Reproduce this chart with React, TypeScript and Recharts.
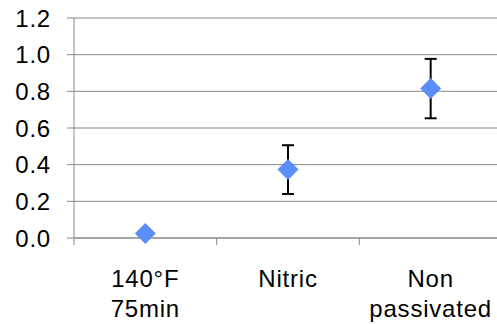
import React from "react";
import { ScatterChart, Scatter, XAxis, YAxis, CartesianGrid, ErrorBar } from "recharts";

const categories: string[][] = [["140°F", "75min"], ["Nitric"], ["Non", "passivated"]];
const values: number[] = [0.025, 0.373, 0.815];
const errors: number[] = [0.005, 0.133, 0.162];
const yTicks: number[] = [0, 0.2, 0.4, 0.6, 0.8, 1.0, 1.2];

const data = categories.map((c, i) => ({ x: i + 0.5, y: values[i], err: errors[i] }));
const xTicks: number[] = [];
for (let i = 0; i <= categories.length; i++) {
  xTicks.push(i);
  if (i < categories.length) xTicks.push(i + 0.5);
}

const GRID = "#888888";
const FONT = "'Liberation Sans', Arial, sans-serif";

const XTick = (props: any) => {
  const { x, y, payload } = props;
  const v = payload.value as number;
  if (Number.isInteger(v)) {
    return <line x1={x} x2={x} y1={y} y2={y + 7} stroke={GRID} strokeWidth={1} />;
  }
  const lines = categories[Math.floor(v)];
  return (
    <text x={x} y={y + 49} textAnchor="middle" fontSize={24} fontFamily={FONT} fill="#000" letterSpacing={0.8}>
      {lines.map((l, i) => (
        <tspan key={i} x={x} dy={i === 0 ? 0 : 30}>
          {l}
        </tspan>
      ))}
    </text>
  );
};

const Diamond = (props: any) => {
  const { cx, cy } = props;
  const h = 10.5;
  return (
    <polygon
      points={`${cx},${cy - h} ${cx + h},${cy} ${cx},${cy + h} ${cx - h},${cy}`}
      fill="#5B8DF6"
    />
  );
};

export default function App() {
  return (
    <div style={{ position: "absolute", left: 0, top: 0, width: 497, height: 324, overflow: "hidden", background: "#fff" }}>
      <ScatterChart width={502} height={324} margin={{ top: 18, right: 0, left: 0, bottom: 0 }}>
        <CartesianGrid horizontal={true} vertical={false} stroke={GRID} strokeWidth={1} />
        <XAxis
          type="number"
          dataKey="x"
          domain={[0, categories.length]}
          ticks={xTicks}
          interval={0}
          height={86}
          tickSize={0}
          tickMargin={0}
          tickLine={false}
          axisLine={{ stroke: GRID, strokeWidth: 1 }}
          tick={<XTick />}
          allowDataOverflow
        />
        <YAxis
          type="number"
          dataKey="y"
          domain={[0, 1.2]}
          ticks={yTicks}
          interval={0}
          width={74}
          tickSize={7}
          tickMargin={16}
          tickFormatter={(v: number) => v.toFixed(1)}
          axisLine={{ stroke: GRID, strokeWidth: 1 }}
          tickLine={{ stroke: GRID, strokeWidth: 1 }}
          tick={{ fontSize: 24, fontFamily: FONT, fill: "#000", letterSpacing: 0.8 }}
        />
        <Scatter data={data} isAnimationActive={false} shape={<Diamond />}>
          <ErrorBar dataKey="err" direction="y" width={6} stroke="#000" strokeWidth={2} />
        </Scatter>
      </ScatterChart>
    </div>
  );
}
